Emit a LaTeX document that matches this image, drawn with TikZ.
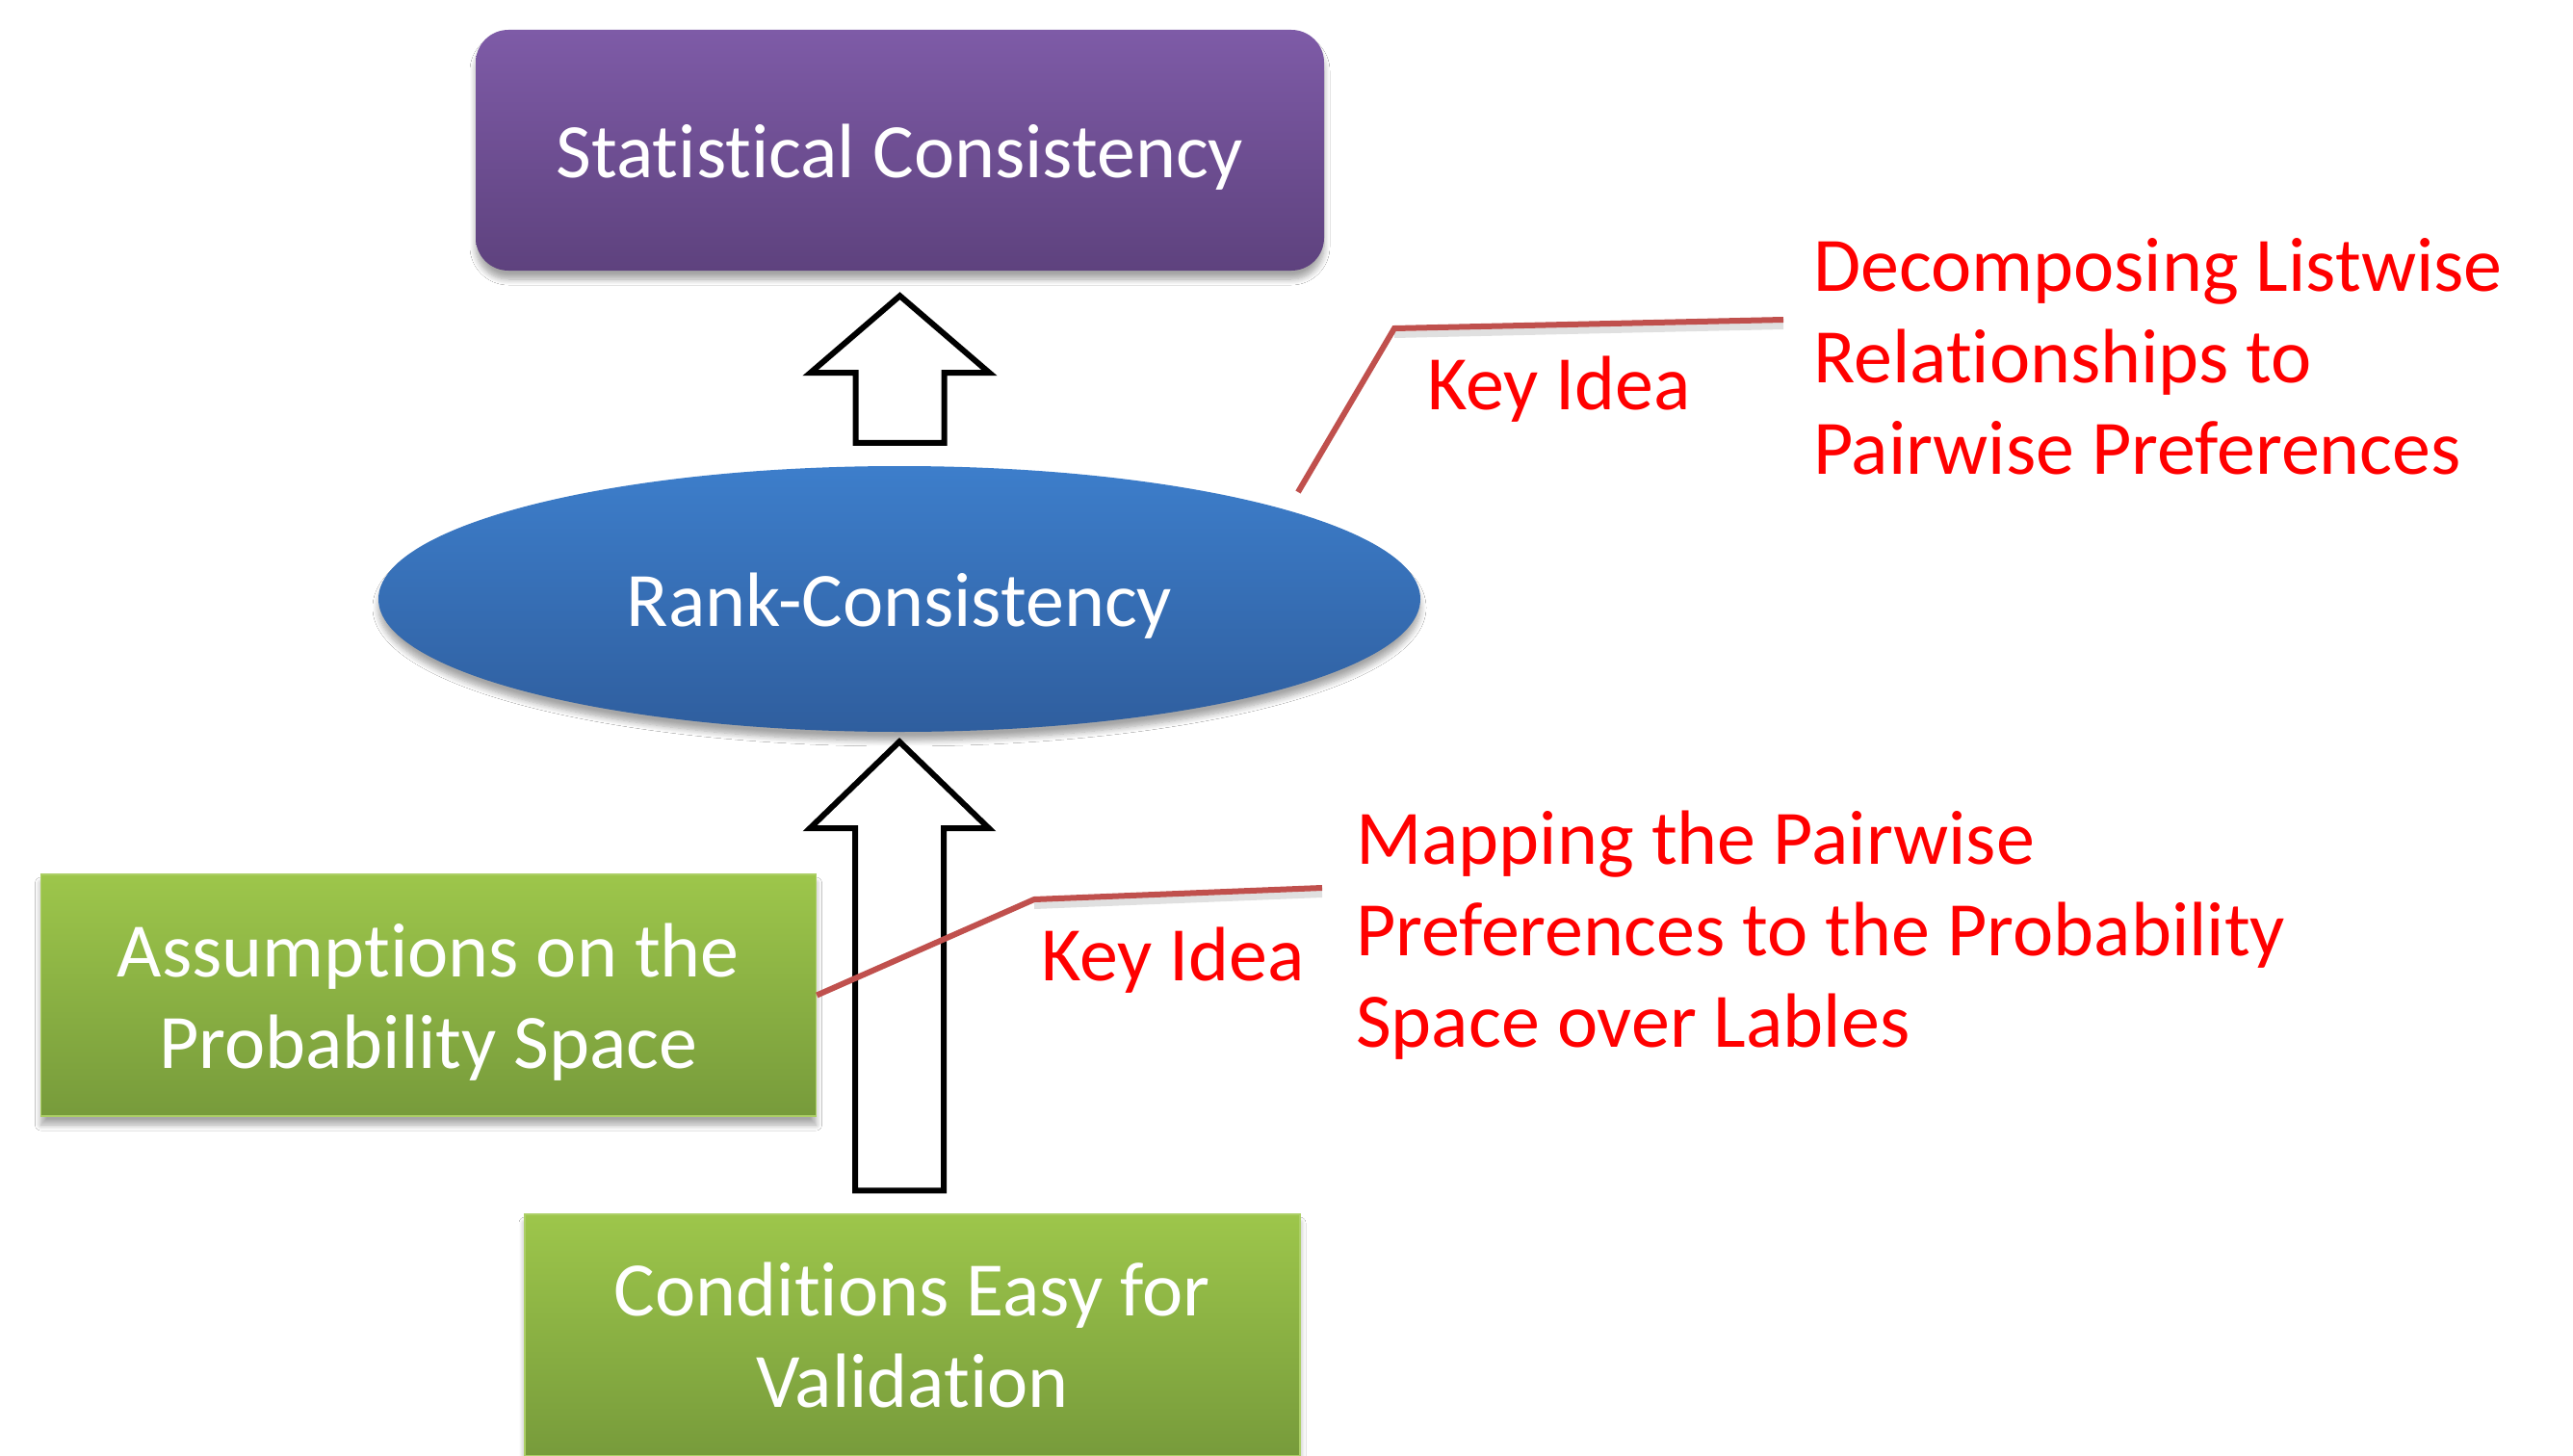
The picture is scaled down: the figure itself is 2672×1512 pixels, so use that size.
\documentclass[tikz,border=0pt]{standalone}
\usepackage{fontspec}
\setmainfont{Carlito}[Ligatures=CommonOff]
\usetikzlibrary{calc,shadows,shadows.blur,shapes.geometric}
\definecolor{purpT}{HTML}{7E5BA7}
\definecolor{purpB}{HTML}{5E427E}
\definecolor{blueT}{HTML}{3D7ECB}
\definecolor{blueB}{HTML}{2F5E9E}
\definecolor{greenT}{HTML}{9DC64B}
\definecolor{greenB}{HTML}{779B3B}
\definecolor{keyline}{HTML}{C0504D}
\definecolor{keytext}{HTML}{FF0000}
\newcommand\blockarrow[3]{%
  \draw[blockarr] let \p1=(#1), \p2=(#2) in
    (\x1,\y1) -- (\x1+93bp,\y1-#3bp) -- (\x1+46bp,\y1-#3bp) -- (\x1+46bp,\y2)
    -- (\x1-46bp,\y2) -- (\x1-46bp,\y1-#3bp) -- (\x1-93bp,\y1-#3bp) -- cycle;}
\begin{document}
\begin{tikzpicture}[x=1bp,y=-1bp,
  bigfont/.style={font=\fontsize{80bp}{95bp}\selectfont},
  txt/.style={bigfont, text=white, align=center, inner sep=0pt},
  softshadow/.style={blur shadow={shadow xshift=0bp, shadow yshift=-9bp,
    shadow blur radius=6bp, shadow blur steps=8, shadow opacity=35}},
  purplebox/.style={rounded corners=34bp, minimum width=881bp, minimum height=250bp,
    top color=purpT, bottom color=purpB, softshadow},
  blueell/.style={ellipse, minimum width=1082bp, minimum height=276bp,
    top color=blueT, bottom color=blueB, softshadow},
  greenbox/.style={minimum width=805bp, minimum height=251bp,
    top color=greenT, bottom color=greenB, draw=greenT!85!white, line width=1.5bp, softshadow},
  blockarr/.style={draw=black, fill=white, line width=6bp, line join=miter},
  keyln/.style={draw=keyline, line width=6bp},
  keylnshadow/.style={draw=black, opacity=0.12, line width=8bp},
  keylabel/.style={bigfont, text=keytext, inner sep=0pt},
  keyblock/.style={keylabel, align=left, anchor=west}]
\useasboundingbox (0,0) rectangle (2672,1512);
\clip (0,0) rectangle (2672,1512);
\fill[white] (0,0) rectangle (2672,1512);

\node[purplebox, label={[txt, yshift=-7bp]center:Statistical Consistency}] (stat) at (934.5,156) {};
\node[blueell, label={[txt, yshift=-7bp]center:Rank-Consistency}] (rank) at (934,622) {};
\node[greenbox, label={[txt, yshift=-7bp]center:Assumptions on the\\Probability Space}] (ass) at (445,1033.5) {};
\node[greenbox, label={[txt]center:Conditions Easy for\\Validation}] (cond) at (947.5,1386.5) {};

\coordinate (t1) at ($(stat.south)+(0,26)$);
\coordinate (b1) at ($(rank.north)+(0,-24)$);
\blockarrow{t1}{b1}{80}
\coordinate (t2) at ($(rank.south)+(0,10)$);
\coordinate (b2) at ($(cond.north)+(0,-24)$);
\blockarrow{t2}{b2}{90}

\node[keylabel] (kA) at (1619,404) {Key Idea};
\node[keyblock] (dA) at (1883,370) {Decomposing Listwise\\Relationships to\\Pairwise Preferences};
\node[keylabel] (kB) at (1218,997) {Key Idea};
\node[keyblock] (dB) at (1408,971) {Mapping the Pairwise\\Preferences to the Probability\\Space over Lables};

\coordinate (sA) at ($(rank.center)+(414,-111)$);
\coordinate (mA) at (1448,341);
\coordinate (eA) at (1852,332);
\coordinate (mB) at (1074,934);
\coordinate (eB) at (1373,922);
\draw[keylnshadow] ([yshift=-6bp]mA) -- ([yshift=-6bp]eA);
\draw[keylnshadow] ([yshift=-6bp]mB) -- ([yshift=-6bp]eB);
\draw[keyln] (sA) -- (mA) -- (eA);
\draw[keyln] (ass.east) -- (mB) -- (eB);
\end{tikzpicture}
\end{document}
